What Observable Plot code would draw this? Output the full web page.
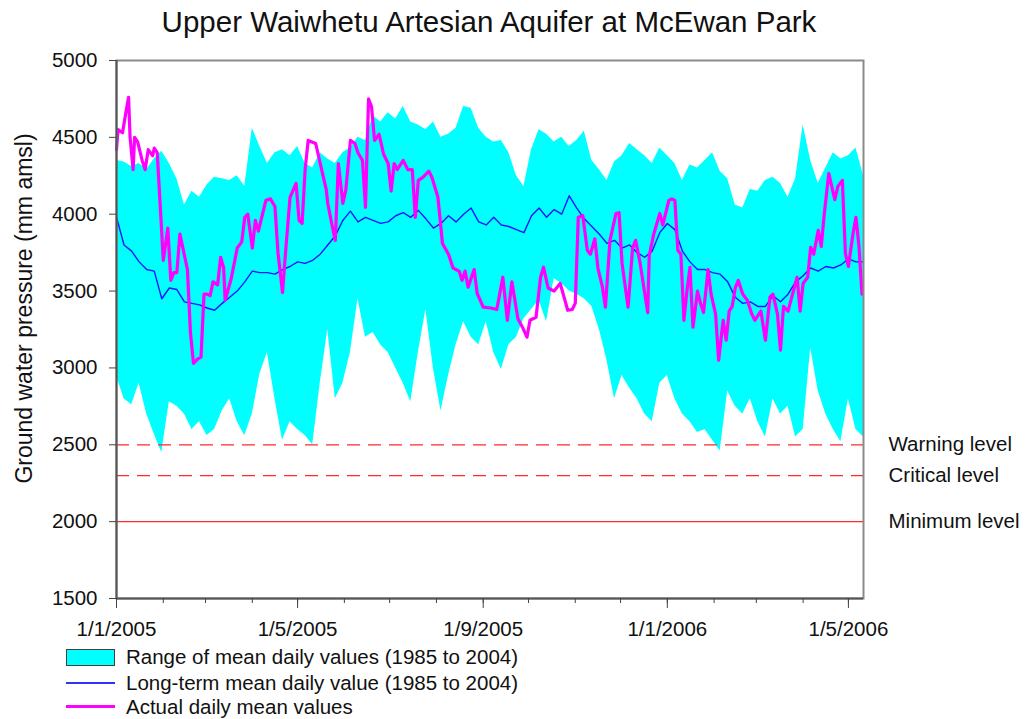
<!DOCTYPE html>
<html><head><meta charset="utf-8">
<script src="https://cdn.jsdelivr.net/npm/d3@7"></script>
<script src="https://cdn.jsdelivr.net/npm/@observablehq/plot@0.6"></script>
<style>
body{margin:0;background:#fff;font-family:"Liberation Sans",Arial,sans-serif;color:#111;}
#wrap{position:relative;width:1028px;height:719px;overflow:hidden;}
#title{position:absolute;left:0;top:7px;width:978px;text-align:center;font-size:29.5px;line-height:1;}
#chart{position:absolute;left:0;top:45px;}
.lt{position:absolute;left:126px;font-size:20.5px;line-height:1;white-space:nowrap;}
.sw{position:absolute;left:66px;}
</style></head><body>
<div id="wrap">
<div id="title">Upper Waiwhetu Artesian Aquifer at McEwan Park</div>
<div id="chart"></div>
<div class="sw" style="top:649px;width:47px;height:15px;background:#00ffff;border:1.5px solid #404040;"></div>
<div class="lt" style="top:647px;">Range of mean daily values (1985 to 2004)</div>
<div class="sw" style="top:682px;width:49px;height:1.5px;background:#3030ff;"></div>
<div class="lt" style="top:673px;">Long-term mean daily value (1985 to 2004)</div>
<div class="sw" style="top:705px;width:49px;height:3px;background:#ff00ff;"></div>
<div class="lt" style="top:697px;">Actual daily mean values</div>
</div>
<script>
// ---- data ----
const startYear = 2005;
const bandStepDays = 5; // band & mean sampled every 5 days from 1/1/2005
const bandMax = [4350,4340,4310,4330,4290,4360,4410,4330,4230,4060,
4150,4110,4190,4240,4230,4220,4250,4180,4560,4440,
4330,4400,4420,4380,4440,4330,4300,4400,4360,4330,
4400,4430,4500,4480,4640,4600,4660,4620,4700,4600,
4580,4550,4600,4500,4520,4560,4700,4690,4560,4500,
4470,4480,4400,4250,4180,4420,4550,4520,4470,4500,
4440,4480,4540,4350,4290,4220,4340,4380,4460,4420,
4380,4330,4430,4380,4330,4220,4320,4300,4350,4400,
4280,4230,4060,4040,4160,4150,4220,4240,4200,4110,
4230,4580,4350,4200,4300,4400,4360,4380,4430,4250];
const bandMin = [2950,2800,2760,2900,2700,2570,2450,2780,2750,2700,
2600,2650,2560,2600,2720,2800,2650,2560,2700,2960,
3100,2800,2530,2650,2600,2560,2500,2900,3250,2800,
2900,3100,3450,3200,3230,3150,3100,3000,2900,2780,
3100,3380,3000,2720,2950,3150,3300,3200,3150,3300,
3100,2990,3150,3200,3320,3380,3440,3300,3580,3550,
3500,3480,3450,3400,3250,3050,2800,2950,2870,2800,
2700,2650,2900,2950,2800,2700,2650,2580,2600,2530,
2460,2850,2750,2700,2800,2650,2550,2800,2700,2750,
2550,2600,3130,2850,2700,2600,2520,2800,2600,2550];
const meanVals = [3980,3800,3760,3690,3640,3630,3450,3520,3510,3430,
3420,3410,3390,3375,3420,3460,3500,3560,3630,3620,
3620,3610,3640,3660,3690,3680,3700,3740,3800,3860,
3960,4020,3950,3980,3960,3940,3950,3990,4010,3980,
4025,3970,3910,3940,3990,3950,4000,4040,3950,3930,
3980,3930,3920,3900,3880,3990,4040,3980,4030,4000,
4120,4040,3970,3920,3870,3810,3830,3780,3800,3750,
3720,3760,3880,3940,3900,3760,3690,3640,3640,3620,
3610,3560,3460,3420,3430,3400,3400,3470,3430,3480,
3560,3600,3650,3630,3660,3650,3670,3710,3690,3690];
// actual daily mean values: day offset from 1/1/2005, value (mm amsl)
const actualDays = [0,1,4,6,8,9,11,12,14,17,
19,21,24,25,27,31,34,36,38,40,
42,44,47,49,51,54,56,58,60,62,
64,67,69,71,72,76,80,83,85,87,
90,92,94,99,102,105,107,110,112,115,
119,121,123,125,127,132,135,139,140,143,
145,147,150,152,155,158,160,163,165,167,
169,171,174,177,180,182,184,186,190,193,
196,198,200,203,207,209,213,216,220,223,
227,229,231,233,237,239,243,248,252,256,
259,262,266,269,272,274,278,281,283,286,
290,294,299,302,304,306,309,312,314,317,
319,322,324,327,331,333,335,339,342,344,
347,352,353,356,360,362,366,368,370,372,
374,376,378,380,382,385,387,389,392,394,
397,399,402,404,406,408,410,412,415,418,
421,423,427,430,433,435,438,440,442,445,
448,451,453,455,458,460,462,465,467,469,
472,474,476,478,481,483,485,488,490,492,
494];
const actualVals = [4420,4550,4530,4650,4760,4500,4290,4500,4470,4350,
4290,4420,4380,4430,4400,3700,3910,3570,3620,3620,
3870,3780,3640,3230,3030,3060,3070,3480,3480,3470,
3560,3540,3720,3650,3440,3580,3780,3820,3980,4000,
3780,3960,3890,4090,4100,4050,3750,3490,3750,4110,
4200,3960,3940,4290,4480,4460,4330,4160,4070,3920,
3830,4330,4070,4160,4480,4460,4400,4350,4045,4750,
4700,4480,4520,4390,4330,4150,4330,4290,4350,4290,
4290,3980,4220,4240,4280,4240,4110,3810,3740,3650,
3630,3570,3630,3525,3640,3485,3395,3390,3380,3590,
3310,3560,3320,3265,3200,3310,3330,3590,3655,3520,
3500,3550,3375,3380,3420,3980,3990,3765,3740,3840,
3650,3525,3395,3830,4005,4010,3680,3395,3780,3830,
3680,3360,3730,3870,4005,3930,4090,4100,4090,3765,
3740,3310,3500,3655,3265,3500,3420,3360,3640,3480,
3350,3050,3310,3180,3370,3400,3520,3570,3480,3440,
3350,3310,3370,3180,3460,3480,3350,3115,3400,3370,
3480,3590,3370,3550,3590,3785,3740,3895,3790,4000,
4265,4180,4095,4180,4220,3745,3660,3870,3980,3790,
3480];
const levelValues = [2500, 2300, 2000];
const levelLabels = ["Warning level", "Critical level", "Minimum level"];
const yTicks = [1500,2000,2500,3000,3500,4000,4500,5000];
const majorTickDates = ["2005-01-01","2005-05-01","2005-09-01","2006-01-01","2006-05-01"];
const xEndDay = 495;
const yLabel = "Ground water pressure (mm amsl)";

// ---- build ----
const t0 = Date.UTC(startYear,0,1);
const dayDate = d => new Date(t0 + d*864e5);
const band = bandMax.map((v,i)=>({date: dayDate(i*bandStepDays), max: v, min: bandMin[i], mean: meanVals[i]}));
const actual = actualDays.map((d,i)=>({date: dayDate(d), value: actualVals[i]}));
const levels = levelValues.map((v,i)=>({value: v, label: levelLabels[i]}));
const xDomain = [dayDate(0), dayDate(xEndDay)];
const majors = majorTickDates.map(s => new Date(s+"T00:00:00Z"));
const months = d3.utcMonth.range(xDomain[0], xDomain[1]);
const fmt = d => `${d.getUTCDate()}/${d.getUTCMonth()+1}/${d.getUTCFullYear()}`;

const chart = Plot.plot({
  width: 1028, height: 600,
  marginLeft: 116, marginRight: 165, marginTop: 15, marginBottom: 47,
  x: {type: "utc", domain: xDomain},
  y: {domain: [1500, 5000]},
  style: {fontFamily: "'Liberation Sans', Arial, sans-serif", fontSize: "20.5px", color: "#111", background: "white"},
  marks: [
    Plot.areaY(band, {x: "date", y1: "min", y2: "max", fill: "#00ffff"}),
    Plot.ruleY(levels.slice(0,2), {y: "value", stroke: "#ff2a2a", strokeWidth: 1.3, strokeDasharray: "13,8"}),
    Plot.ruleY(levels.slice(2), {y: "value", stroke: "#ff2a2a", strokeWidth: 1.2}),
    Plot.lineY(band, {x: "date", y: "mean", stroke: "#1515ff", strokeWidth: 1.4}),
    Plot.lineY(actual, {x: "date", y: "value", stroke: "#ff00ff", strokeWidth: 3.2}),
    Plot.frame({stroke: "#8a8a8a", strokeWidth: 2}),
    Plot.ruleX([xDomain[0]], {stroke: "#555", strokeWidth: 2}),
    Plot.ruleY([1500], {stroke: "#555", strokeWidth: 2}),
    Plot.text(levels, {x: xDomain[1], y: "value", text: "label", textAnchor: "start", dx: 25, fontSize: 20.5}),
    Plot.text([yLabel], {frameAnchor: "left", textAnchor: "middle", rotate: -90, dx: -92, dy: -21, fontSize: 23}),
    Plot.axisY({ticks: yTicks, tickSize: 7, tickPadding: 12, tickFormat: d => String(d), label: null, stroke: "#444"}),
    Plot.axisX({ticks: months, tickSize: 5, tickFormat: () => "", label: null, stroke: "#444"}),
    Plot.axisX({ticks: majors, tickSize: 10, tickPadding: 13, tickFormat: fmt, label: null, stroke: "#444"})
  ]
});
document.getElementById("chart").appendChild(chart);
</script>
</body></html>
